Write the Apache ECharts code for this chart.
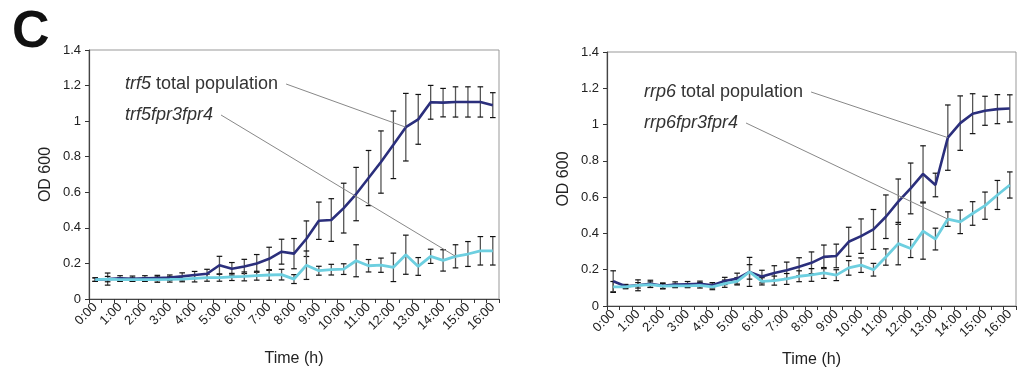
<!DOCTYPE html>
<html>
<head>
<meta charset="utf-8">
<script src="https://cdn.jsdelivr.net/npm/echarts@6.0.0/dist/echarts.min.js"></script>
<style>
  html, body { margin: 0; padding: 0; background: #fff; }
  #chart { width: 1023px; height: 374px; }
</style>
</head>
<body>
<div id="chart"></div>
<script>
const times = ['0:00','0:30','1:00','1:30','2:00','2:30','3:00','3:30','4:00','4:30','5:00','5:30',
  '6:00','6:30','7:00','7:30','8:00','8:30','9:00','9:30','10:00','10:30','11:00','11:30',
  '12:00','12:30','13:00','13:30','14:00','14:30','15:00','15:30','16:00'];
const yTicks = [0, 0.2, 0.4, 0.6, 0.8, 1, 1.2, 1.4];

// left panel
const trf5Total = [0.109,0.112,0.116,0.114,0.116,0.118,0.120,0.127,0.135,0.142,0.190,0.170,0.183,0.200,0.226,0.266,0.255,
  0.339,0.440,0.444,0.511,0.590,0.680,0.770,0.867,0.966,1.010,1.106,1.104,1.108,1.108,1.108,1.090];
const trf5TotalErr = [0.01,0.034,0.015,0.015,0.015,0.015,0.015,0.02,0.02,0.025,0.05,0.035,0.04,0.05,0.065,0.07,0.085,
  0.10,0.105,0.12,0.14,0.15,0.155,0.175,0.19,0.19,0.14,0.095,0.08,0.085,0.085,0.085,0.07];
const trf5Mut = [0.109,0.112,0.109,0.109,0.109,0.109,0.110,0.112,0.116,0.120,0.120,0.124,0.127,0.131,0.135,0.137,0.112,
  0.190,0.159,0.165,0.168,0.215,0.187,0.190,0.178,0.249,0.183,0.240,0.217,0.240,0.253,0.271,0.271];
const trf5MutErr = [0.01,0.015,0.01,0.01,0.01,0.015,0.015,0.015,0.02,0.02,0.02,0.02,0.025,0.025,0.03,0.03,0.025,
  0.08,0.025,0.03,0.03,0.09,0.035,0.04,0.08,0.11,0.05,0.04,0.06,0.065,0.07,0.08,0.08];

// right panel
const rrp6Total = [0.136,0.109,0.114,0.122,0.112,0.118,0.120,0.122,0.114,0.138,0.151,0.188,0.162,0.182,0.197,0.216,0.238,
  0.271,0.276,0.354,0.385,0.422,0.492,0.575,0.648,0.728,0.667,0.928,1.008,1.060,1.076,1.085,1.089];
const rrp6TotalErr = [0.058,0.01,0.03,0.02,0.015,0.015,0.015,0.015,0.015,0.02,0.03,0.08,0.035,0.04,0.045,0.05,0.06,
  0.065,0.065,0.08,0.095,0.11,0.12,0.125,0.14,0.155,0.065,0.18,0.15,0.11,0.08,0.08,0.075];
const rrp6Mut = [0.105,0.105,0.114,0.118,0.109,0.111,0.111,0.114,0.105,0.123,0.136,0.188,0.136,0.140,0.149,0.164,0.171,
  0.182,0.170,0.210,0.225,0.200,0.270,0.344,0.317,0.413,0.369,0.479,0.464,0.510,0.553,0.612,0.667];
const rrp6MutErr = [0.03,0.01,0.015,0.015,0.015,0.01,0.01,0.015,0.015,0.02,0.02,0.04,0.02,0.025,0.03,0.03,0.035,
  0.03,0.03,0.04,0.04,0.035,0.045,0.117,0.05,0.155,0.06,0.04,0.065,0.065,0.075,0.08,0.072];

// which point each annotation's leader line goes to
const leaderIdx = [25, 29, 27, 27];

const FONT = '"Liberation Sans", Arial, sans-serif';
const DARK = '#2b2f7c';
const LIGHT = '#6dcfe0';

const panels = [
  { grid: { left: 89, right: 524, top: 50, bottom: 75 }, total: trf5Total, totalErr: trf5TotalErr, mut: trf5Mut, mutErr: trf5MutErr,
    labels: [['trf5', ' total population'], ['trf5fpr3fpr4', '']], textX: 125, textY: [84, 115], timeGap: 52 },
  { grid: { left: 607, right: 7, top: 52, bottom: 68 }, total: rrp6Total, totalErr: rrp6TotalErr, mut: rrp6Mut, mutErr: rrp6MutErr,
    labels: [['rrp6', ' total population'], ['rrp6fpr3fpr4', '']], textX: 644, textY: [92, 123], timeGap: 46 }
];

function errData(vals, errs) {
  return vals.map((v, i) => [i, v - errs[i], v + errs[i]]);
}

function renderErr(params, api) {
  const lo = api.coord([api.value(0), api.value(1)]);
  const hi = api.coord([api.value(0), api.value(2)]);
  const w = 2.8;
  return {
    type: 'group',
    children: [
      { type: 'line', shape: { x1: lo[0], y1: lo[1], x2: hi[0], y2: hi[1] }, style: { stroke: '#555', lineWidth: 1.3 } },
      { type: 'line', shape: { x1: lo[0] - w, y1: lo[1], x2: lo[0] + w, y2: lo[1] }, style: { stroke: '#111', lineWidth: 1.2 } },
      { type: 'line', shape: { x1: hi[0] - w, y1: hi[1], x2: hi[0] + w, y2: hi[1] }, style: { stroke: '#111', lineWidth: 1.2 } }
    ]
  };
}

const grids = [], xAxes = [], yAxes = [], series = [];
panels.forEach((p, k) => {
  grids.push(Object.assign({ show: true, borderColor: '#999', borderWidth: 1, backgroundColor: '#fff' }, p.grid));
  xAxes.push({
    type: 'category', gridIndex: k, data: times, boundaryGap: true,
    name: 'Time (h)', nameLocation: 'middle', nameGap: p.timeGap,
    nameTextStyle: { fontFamily: FONT, fontSize: 16, color: '#222' },
    axisLine: { lineStyle: { color: '#444', width: 1.2 } },
    axisTick: { show: true, interval: 0, length: 4, lineStyle: { color: '#333' } },
    axisLabel: { interval: 1, rotate: 45, fontFamily: FONT, fontSize: 13, color: '#222', margin: 6 },
    splitLine: { show: false }
  });
  yAxes.push({
    type: 'value', gridIndex: k, min: yTicks[0], max: yTicks[yTicks.length - 1], interval: 0.2,
    name: 'OD 600', nameLocation: 'middle', nameGap: 35,
    nameTextStyle: { fontFamily: FONT, fontSize: 16, color: '#222' },
    axisLine: { show: true, lineStyle: { color: '#444', width: 1.2 } },
    axisTick: { show: true, length: 4, lineStyle: { color: '#333' } },
    axisLabel: { fontFamily: FONT, fontSize: 13, color: '#222', margin: 8 },
    splitLine: { show: false }
  });
  [[p.total, p.totalErr], [p.mut, p.mutErr]].forEach(([v, e]) => {
    series.push({
      type: 'custom', xAxisIndex: k, yAxisIndex: k, renderItem: renderErr,
      data: errData(v, e), encode: { x: 0, y: [1, 2] }, silent: true, z: 2
    });
  });
  series.push({
    type: 'line', xAxisIndex: k, yAxisIndex: k, data: p.total, showSymbol: false,
    lineStyle: { color: DARK, width: 2.6 }, itemStyle: { color: DARK }, z: 3
  });
  series.push({
    type: 'line', xAxisIndex: k, yAxisIndex: k, data: p.mut, showSymbol: false,
    lineStyle: { color: LIGHT, width: 2.8 }, itemStyle: { color: LIGHT }, z: 4
  });
});

const chart = echarts.init(document.getElementById('chart'));
chart.setOption({
  animation: false,
  grid: grids, xAxis: xAxes, yAxis: yAxes, series: series
});

// panel letter, curve labels and leader lines
const measure = document.createElement('canvas').getContext('2d');
const graphics = [{
  type: 'text', left: 12, top: 7,
  style: { text: 'C', font: 'bold 52px ' + FONT, fill: '#111' }
}];
panels.forEach((p, k) => {
  p.labels.forEach((lab, j) => {
    const txt = '{i|' + lab[0] + '}' + (lab[1] ? '{n|' + lab[1] + '}' : '');
    graphics.push({
      type: 'text', x: p.textX, y: p.textY[j],
      style: {
        text: txt, fill: '#333', verticalAlign: 'middle',
        rich: {
          i: { fontFamily: FONT, fontSize: 18, fontStyle: 'italic', fill: '#333' },
          n: { fontFamily: FONT, fontSize: 18, fill: '#333' }
        }
      }
    });
    measure.font = 'italic 18px ' + FONT;
    let w = measure.measureText(lab[0]).width;
    measure.font = '18px ' + FONT;
    if (lab[1]) w += measure.measureText(lab[1]).width;
    const vals = j === 0 ? p.total : p.mut;
    const idx = leaderIdx[k * 2 + j];
    const end = chart.convertToPixel({ xAxisIndex: k, yAxisIndex: k }, [idx, vals[idx]]);
    graphics.push({
      type: 'line', z: 10,
      shape: { x1: p.textX + w + 8, y1: p.textY[j], x2: end[0], y2: end[1] },
      style: { stroke: '#888', lineWidth: 1 }
    });
  });
});
chart.setOption({ graphic: graphics });
</script>
</body>
</html>
